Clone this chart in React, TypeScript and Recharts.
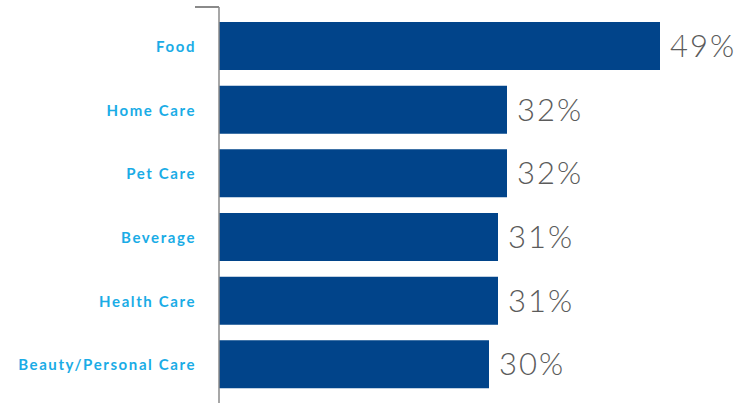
import React from "react";
import { Bar, BarChart, LabelList, XAxis, YAxis } from "recharts";

const categories = [
  "Food",
  "Home Care",
  "Pet Care",
  "Beverage",
  "Health Care",
  "Beauty/Personal Care",
];
const shares = [49, 32, 32, 31, 31, 30];

const data = categories.map((name, i) => ({ name, share: shares[i] }));

export default function App() {
  return (
    <div style={{ position: "absolute", left: 0, top: 0, width: 738, height: 403, background: "#fff" }}>
      <BarChart
        width={738}
        height={403}
        data={data}
        layout="vertical"
        margin={{ top: 7, right: 69, bottom: 0, left: 0 }}
      >
        <XAxis type="number" domain={[0, 50]} hide />
        <YAxis
          type="category"
          dataKey="name"
          width={219}
          padding={{ top: 7, bottom: 7 }}
          axisLine={{ stroke: "#8a8a8a", strokeWidth: 1.5 }}
          tickLine={false}
          tickSize={0}
          tickMargin={23}
          tick={{
            fill: "#1aace6",
            fontSize: 15,
            fontWeight: 700,
            fontFamily: "Lato, 'Open Sans', sans-serif",
            letterSpacing: 1.6,
            dy: 1,
          }}
        />
        <Bar dataKey="share" fill="#01448a" barSize={48} isAnimationActive={false}>
          <LabelList
            dataKey="share"
            position="right"
            offset={10}
            formatter={(v: unknown) => `${v}%`}
            style={{
              fill: "#5b5b5b",
              fontSize: 31,
              fontWeight: 300,
              letterSpacing: 2,
              fontFamily: "Lato, 'Open Sans', sans-serif",
            }}
          />
        </Bar>
      </BarChart>
      <div
        style={{
          position: "absolute",
          left: 195,
          top: 6,
          width: 24,
          height: 1.5,
          background: "#8a8a8a",
        }}
      />
    </div>
  );
}
